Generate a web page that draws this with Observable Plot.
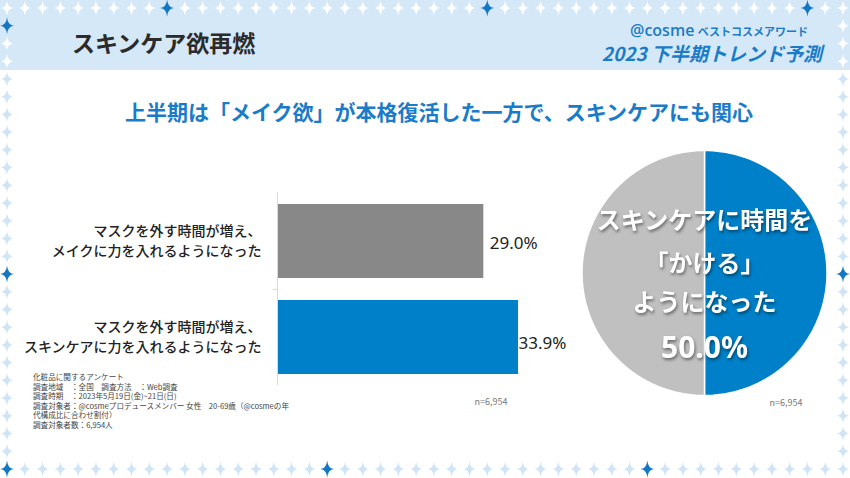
<!DOCTYPE html>
<html><head><meta charset="utf-8">
<script src="https://cdn.jsdelivr.net/npm/d3@7"></script>
<script src="https://cdn.jsdelivr.net/npm/@observablehq/plot@0.6"></script>
<style>
html,body{margin:0;padding:0;background:#fff;}
#page{position:relative;width:850px;height:478px;overflow:hidden;background:#fff;font-family:"Noto Sans CJK JP","Noto Sans",sans-serif;}
.abs{position:absolute;}
#band{left:0;top:0;width:850px;height:70px;background:#d5e8f8;}
#title{left:72px;top:26px;font-size:23px;font-weight:bold;color:#2b2b2b;line-height:32px;white-space:nowrap;}
#brand{left:600px;width:208px;text-align:right;top:19px;font-size:15px;color:#1a7cc8;white-space:nowrap;line-height:22px;}
#brand .b1{font-family:"Open Sans",sans-serif;font-weight:600;font-size:16px;}
#brand .b2{font-size:11px;font-weight:bold;}
#trend{left:600px;width:222px;text-align:right;top:40px;font-size:19px;font-weight:bold;font-style:italic;color:#1a7cc8;white-space:nowrap;line-height:26px;}
#subtitle{left:0;width:878px;text-align:center;top:96px;font-size:21px;font-weight:bold;color:#1a7cc8;white-space:nowrap;line-height:30px;}
#note{left:33px;top:372px;font-size:7.6px;color:#444;white-space:nowrap;}
#note div{height:9.6px;line-height:9.6px;}
#bars{left:0;top:0;}
#pie{left:560px;top:130px;}
#pie text.lbl{filter:drop-shadow(1px 2px 1.5px rgba(0,0,0,0.45));}
#stars{left:0;top:0;}
</style></head>
<body><div id="page">
<div id="band" class="abs"></div>
<svg id="stars" class="abs" width="850" height="478"></svg>
<div id="title" class="abs">スキンケア欲再燃</div>
<div id="brand" class="abs"><span class="b1">@cosme</span> <span class="b2">ベストコスメアワード</span></div>
<div id="trend" class="abs">2023 下半期トレンド予測</div>
<div id="subtitle" class="abs">上半期は「メイク欲」が本格復活した一方で、スキンケアにも関心</div>
<div id="bars" class="abs"></div>
<div id="pie" class="abs"></div>
<div id="note" class="abs"><div>化粧品に関するアンケート</div><div>調査地域　：全国　調査方法　：Web調査</div><div>調査時期　：2023年5月19日(金)~21日(日)</div><div>調査対象者：@cosmeプロデュースメンバー 女性　20-69歳（@cosmeの年</div><div>代構成比に合わせ割付）</div><div>調査対象者数：6,954人</div></div>
</div>
<script>
// ---- data ----
const barLabels = ["マスクを外す時間が増え、\nメイクに力を入れるようになった", "マスクを外す時間が増え、\nスキンケアに力を入れるようになった"];
const barValues = [29.0, 33.9];
const barColors = ["#888888", "#0080c8"];
const barN = "n=6,954";
const pieNames = ["かける", "その他"];
const pieValues = [50.0, 50.0];
const pieColors = ["#0080c8", "#c0c0c0"];
const pieCaption = ["スキンケアに時間を", "「かける」", "ようになった"];
const pieN = "n=6,954";

// ---- star border (decoration) ----
(function(){
  const svg = d3.select("#stars");
  const star = (cx, cy, r, col) => {
    const w = r * 0.28;
    const p = `M${cx},${cy-r} Q${cx+w*0.3},${cy-w*0.3} ${cx+r*0.8},${cy} Q${cx+w*0.3},${cy+w*0.3} ${cx},${cy+r} Q${cx-w*0.3},${cy+w*0.3} ${cx-r*0.8},${cy} Q${cx-w*0.3},${cy-w*0.3} ${cx},${cy-r}Z`;
    svg.append("path").attr("d", p).attr("fill", col);
  };
  const nx = 47, x0 = 7, x1 = 843;
  const ny = 26, y0 = 8, y1 = 469;
  const darkTop = [9, 27, 45], darkBottom = [0, 18, 36];
  const darkLeft = [1, 15, 26], darkRight = [15];
  const col = (dark, y) => dark ? "#1477c4" : (y < 70 ? "#ffffff" : "#cfe4f7");
  for (let i = 0; i <= nx; i++) {
    const x = x0 + (x1 - x0) * i / nx;
    star(x, y0, darkTop.includes(i) ? 8.5 : 7.5, col(darkTop.includes(i), y0));
    star(x, y1, darkBottom.includes(i) ? 8.5 : 7.5, col(darkBottom.includes(i), y1));
  }
  for (let j = 1; j < ny; j++) {
    const y = y0 + (y1 - y0) * j / ny;
    star(x0, y, darkLeft.includes(j) ? 8.5 : 7.5, col(darkLeft.includes(j), y));
    star(x1, y, darkRight.includes(j) ? 8.5 : 7.5, col(darkRight.includes(j), y));
  }
})();

// ---- bar chart ----
const bars = barLabels.map((label, i) => ({label, value: barValues[i], color: barColors[i]}));
const barPlot = Plot.plot({
  width: 600, height: 478,
  marginTop: 192, marginBottom: 93, marginLeft: 0, marginRight: 0,
  style: {fontFamily: '"Noto Sans CJK JP", sans-serif', background: "transparent", overflow: "visible"},
  x: {domain: [0, 40], range: [278, 278 + 40 * 7.08], axis: null},
  y: {domain: barLabels, paddingInner: 0.23, paddingOuter: 0.115, axis: null},
  marks: [
    Plot.barX(bars, {y: "label", x: "value", fill: "color"}),
    Plot.ruleX([0], {stroke: "#d9d9d9", strokeWidth: 1, dx: -1}),
    Plot.ruleY([barLabels[0]], {y: d => d, x1: -0.7, x2: 0, stroke: "#d9d9d9", dy: 48}),
    Plot.text(bars, {y: "label", x: 0, dx: -17, dy: -10, text: d => d.label.split("\n")[0], textAnchor: "end", fontSize: 14, fill: "#222", fontWeight: 500}),
    Plot.text(bars, {y: "label", x: 0, dx: -17, dy: 10, text: d => d.label.split("\n")[1], textAnchor: "end", fontSize: 14, fill: "#222", fontWeight: 500}),
    Plot.text(bars.filter(d => d.value < 30), {y: "label", x: "value", dx: 6, dy: 2, text: d => d.value.toFixed(1) + "%", textAnchor: "start", fontSize: 17, fill: "#222", fontFamily: '"Noto Sans", sans-serif'}),
    Plot.text(bars.filter(d => d.value >= 30), {y: "label", x: "value", dx: 0, dy: 6, text: d => d.value.toFixed(1) + "%", textAnchor: "start", fontSize: 17, fill: "#222", fontFamily: '"Noto Sans", sans-serif'}),
    Plot.text([barN], {x: 27.7, frameAnchor: "bottom", dy: 19, text: d => d, textAnchor: "start", fontSize: 9, fill: "#777"})
  ]
});
document.getElementById("bars").appendChild(barPlot);

// ---- pie chart ----
const arcs = d3.pie().sort(null)(pieValues);
const pieRows = [];
arcs.forEach((a, i) => {
  const n = 90;
  pieRows.push({name: pieNames[i], color: pieColors[i], x: 0, y: 0});
  for (let k = 0; k <= n; k++) {
    const t = a.startAngle + (a.endAngle - a.startAngle) * k / n;
    pieRows.push({name: pieNames[i], color: pieColors[i], x: Math.sin(t), y: Math.cos(t)});
  }
  pieRows.push({name: pieNames[i], color: pieColors[i], x: 0, y: 0});
});
const pieTexts = [
  {t: pieCaption[0], dy: -52, size: 24},
  {t: pieCaption[1], dy: -9, size: 24},
  {t: pieCaption[2], dy: 30, size: 24},
  {t: pieValues[0].toFixed(1) + "%", dy: 75, size: 30}
];
const piePlot = Plot.plot({
  width: 290, height: 290, margin: 0,
  style: {fontFamily: '"Noto Sans CJK JP", sans-serif', background: "transparent", overflow: "visible"},
  x: {domain: [-1, 1], range: [144 - 122.5, 144 + 122.5], axis: null},
  y: {domain: [-1, 1], range: [142.5 + 122.5, 142.5 - 122.5], axis: null},
  marks: [
    Plot.line(pieRows, {x: "x", y: "y", z: "name", fill: "color", stroke: "#ffffff", strokeWidth: 1.5, curve: "linear"}),
    ...pieTexts.map(p => Plot.text([p], {x: 0, y: 0, dy: p.dy, text: "t", fontSize: p.size, fontWeight: "bold", fill: "#ffffff", fontFamily: p.size > 26 ? '"Noto Sans", sans-serif' : '"Noto Sans CJK JP", sans-serif'})),
    Plot.text([pieN], {x: 0.53, y: -1.06, text: d => d, textAnchor: "start", fontSize: 9, fill: "#777"})
  ]
});
piePlot.querySelectorAll("g[aria-label='text']").forEach((g, i) => { if (i < 4) g.querySelectorAll("text").forEach(t => t.classList.add("lbl")); });
document.getElementById("pie").appendChild(piePlot);
</script>
</body></html>
